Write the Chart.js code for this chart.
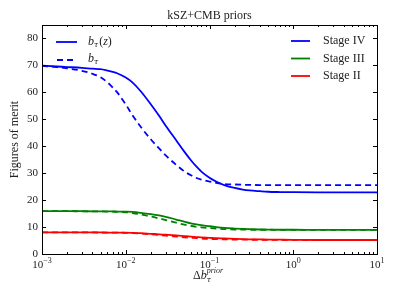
<!DOCTYPE html>
<html>
<head>
<meta charset="utf-8">
<script src="https://cdn.jsdelivr.net/npm/chart.js@4"></script>
<style>
  html, body { margin: 0; padding: 0; background: #fff; }
  #wrap { width: 399px; height: 299px; }
</style>
</head>
<body>
<div id="wrap"><canvas id="fom"></canvas></div>
<script>
// prior width on b_tau (log axis)
const priors = [0.001, 0.0015, 0.002, 0.003, 0.004, 0.005, 0.006, 0.007, 0.008, 0.01,
                0.012, 0.015, 0.02, 0.025, 0.03, 0.04, 0.05, 0.06, 0.07, 0.08,
                0.1, 0.12, 0.15, 0.2, 0.25, 0.3, 0.4, 0.5, 0.7, 1,
                2, 3, 5, 10];

// figures of merit, solid = b_tau(z), dashed = constant b_tau
const stage4Bz = [69.9, 69.6, 69.4, 69.1, 68.8, 68.6, 68.1, 67.6, 67.0, 65.5,
                  63.7, 60.5, 55.5, 51.3, 47.6, 42.2, 38.0, 34.8, 32.4, 30.6,
                  28.3, 26.9, 25.6, 24.5, 23.9, 23.6, 23.3, 23.1, 23.0, 22.95,
                  22.9, 22.9, 22.9, 22.9];
const stage4B  = [69.8, 69.4, 68.9, 68.0, 66.9, 65.6, 63.8, 61.8, 59.8, 55.5,
                  51.6, 47.3, 42.5, 39.2, 36.6, 33.1, 30.7, 29.2, 28.2, 27.6,
                  26.9, 26.4, 26.0, 25.8, 25.7, 25.65, 25.6, 25.6, 25.6, 25.6,
                  25.6, 25.6, 25.6, 25.6];
const stage3Bz = [15.9, 15.9, 15.9, 15.9, 15.85, 15.85, 15.8, 15.8, 15.75, 15.7,
                  15.6, 15.3, 14.8, 14.3, 13.8, 12.8, 12.0, 11.4, 11.0, 10.7,
                  10.3, 10.0, 9.7, 9.45, 9.3, 9.2, 9.1, 9.05, 9.0, 9.0,
                  8.95, 8.95, 8.95, 8.95];
const stage3B  = [15.9, 15.9, 15.9, 15.85, 15.85, 15.8, 15.75, 15.7, 15.65, 15.5,
                  15.2, 14.7, 13.9, 13.2, 12.6, 11.6, 10.9, 10.4, 10.1, 9.9,
                  9.6, 9.4, 9.25, 9.1, 9.05, 9.0, 9.0, 9.0, 8.95, 8.95,
                  8.95, 8.95, 8.95, 8.95];
const stage2Bz = [8.0, 8.0, 8.0, 8.0, 8.0, 8.0, 7.95, 7.95, 7.9, 7.9,
                  7.85, 7.75, 7.5, 7.3, 7.15, 6.9, 6.65, 6.45, 6.3, 6.15,
                  6.0, 5.85, 5.75, 5.6, 5.5, 5.45, 5.4, 5.35, 5.3, 5.25,
                  5.2, 5.2, 5.2, 5.2];
const stage2B  = [8.0, 8.0, 8.0, 8.0, 8.0, 7.95, 7.95, 7.9, 7.9, 7.85,
                  7.75, 7.6, 7.3, 7.05, 6.85, 6.5, 6.2, 6.0, 5.9, 5.75,
                  5.6, 5.5, 5.45, 5.35, 5.3, 5.3, 5.27, 5.25, 5.25, 5.22,
                  5.2, 5.2, 5.2, 5.2];

const yTicks = [0, 10, 20, 30, 40, 50, 60, 70, 80];
const xTicks = [0.001, 0.01, 0.1, 1, 10];
const xTickExp = ["-3", "-2", "-1", "0", "1"];

const stageNames = ["Stage IV", "Stage III", "Stage II"];
const stageColors = ["#0000ff", "#008000", "#ff0000"];

const serif = "'Liberation Serif', 'DejaVu Serif', serif";
const greek = "'DejaVu Serif', serif";

function pts(ys) {
  return priors.map((x, i) => ({ x: x, y: ys[i] }));
}

function line(ys, color, dashed) {
  return {
    data: pts(ys),
    borderColor: color,
    borderWidth: 1.8,
    borderDash: dashed ? [6, 4] : [],
    pointRadius: 0,
    fill: false,
    cubicInterpolationMode: "monotone"
  };
}

// b with a tau subscript, returns the width used
function bTau(ctx, x, y) {
  ctx.font = "italic 12px " + serif;
  ctx.fillText("b", x, y);
  const bw = ctx.measureText("b").width;
  ctx.font = "italic 7.5px " + greek;
  ctx.fillText("\u03c4", x + bw, y + 3);
  return bw + ctx.measureText("\u03c4").width;
}

// axes frame, inward ticks, tick labels, title and the two legends
const decorations = {
  id: "decorations",
  afterDatasetsDraw(chart) {
    const ctx = chart.ctx;
    const a = chart.chartArea;
    const xs = chart.scales.x;
    const ys = chart.scales.y;

    ctx.save();
    ctx.strokeStyle = "#000";
    ctx.lineWidth = 1;
    ctx.setLineDash([]);
    ctx.strokeRect(Math.round(a.left) + 0.5, Math.round(a.top) + 0.5,
                   Math.round(a.right - a.left), Math.round(a.bottom - a.top));

    ctx.beginPath();
    yTicks.forEach(v => {
      const y = Math.round(ys.getPixelForValue(v)) + 0.5;
      ctx.moveTo(a.left, y); ctx.lineTo(a.left + 4, y);
      ctx.moveTo(a.right, y); ctx.lineTo(a.right - 4, y);
    });
    for (let d = -3; d <= 1; d++) {
      for (let m = 1; m <= 9; m++) {
        const v = m * Math.pow(10, d);
        if (v > 10) break;
        const x = Math.round(xs.getPixelForValue(v)) + 0.5;
        const len = m === 1 ? 4 : 2;
        ctx.moveTo(x, a.bottom); ctx.lineTo(x, a.bottom - len);
        ctx.moveTo(x, a.top); ctx.lineTo(x, a.top + len);
      }
    }
    ctx.stroke();

    ctx.fillStyle = "#222";
    ctx.font = "11px " + serif;
    ctx.textAlign = "right";
    ctx.textBaseline = "middle";
    yTicks.forEach(v => ctx.fillText(String(v), a.left - 4, ys.getPixelForValue(v)));

    xTicks.forEach((v, i) => {
      const x = xs.getPixelForValue(v);
      ctx.font = "11px " + serif;
      const wb = ctx.measureText("10").width;
      ctx.font = "8px " + serif;
      const exp = xTickExp[i].replace("-", "\u2212");
      const we = ctx.measureText(exp).width;
      const x0 = x - (wb + we) / 2;
      ctx.textAlign = "left";
      ctx.textBaseline = "alphabetic";
      ctx.font = "11px " + serif;
      ctx.fillText("10", x0, a.bottom + 14);
      ctx.font = "8px " + serif;
      ctx.fillText(exp, x0 + wb, a.bottom + 9);
    });

    // title
    ctx.font = "12px " + serif;
    ctx.textAlign = "center";
    ctx.fillText("kSZ+CMB priors", (a.left + a.right) / 2, a.top - 6);

    // y label
    ctx.save();
    ctx.translate(15, (a.top + a.bottom) / 2);
    ctx.rotate(-Math.PI / 2);
    ctx.textBaseline = "middle";
    ctx.fillText("Figures of merit", 0, 0);
    ctx.restore();

    // x label: Δb_τ^prior
    let lx = 193, ly = 279;
    ctx.textAlign = "left";
    ctx.font = "12px " + serif;
    ctx.fillText("\u0394", lx, ly);
    lx += ctx.measureText("\u0394").width;
    ctx.font = "italic 12px " + serif;
    const bw = ctx.measureText("b").width;
    bTau(ctx, lx, ly);
    ctx.font = "italic 8px " + serif;
    ctx.fillText("prior", lx + bw, ly - 6);

    // left legend (line style)
    ctx.strokeStyle = "#0000ff";
    ctx.lineWidth = 1.8;
    ctx.beginPath(); ctx.moveTo(56, 42); ctx.lineTo(77, 42); ctx.stroke();
    ctx.setLineDash([6, 4]);
    ctx.beginPath(); ctx.moveTo(57, 60); ctx.lineTo(77, 60); ctx.stroke();
    ctx.setLineDash([]);
    ctx.fillStyle = "#222";
    ctx.textBaseline = "middle";
    let w = bTau(ctx, 88, 42) + 1;
    ctx.font = "12px " + serif;
    ctx.fillText("(", 88 + w, 42);
    w += ctx.measureText("(").width;
    ctx.font = "italic 12px " + serif;
    ctx.fillText("z", 88 + w, 42);
    w += ctx.measureText("z").width;
    ctx.font = "12px " + serif;
    ctx.fillText(")", 88 + w, 42);
    bTau(ctx, 88, 59);

    // right legend (experiments)
    ctx.font = "12px " + serif;
    stageNames.forEach((name, i) => {
      const y = 41 + i * 17.5;
      ctx.strokeStyle = stageColors[i];
      ctx.beginPath(); ctx.moveTo(291, y); ctx.lineTo(310, y); ctx.stroke();
      ctx.fillStyle = "#222";
      ctx.fillText(name, 323, y);
    });
    ctx.restore();
  }
};

new Chart(document.getElementById("fom"), {
  type: "line",
  data: {
    datasets: [
      line(stage4Bz, stageColors[0], false),
      line(stage4B, stageColors[0], true),
      line(stage3Bz, stageColors[1], false),
      line(stage3B, stageColors[1], true),
      line(stage2Bz, stageColors[2], false),
      line(stage2B, stageColors[2], true)
    ]
  },
  options: {
    responsive: true,
    maintainAspectRatio: false,
    animation: false,
    layout: { padding: { left: 42, right: 22, top: 25, bottom: 45 } },
    plugins: {
      legend: { display: false },
      tooltip: { enabled: false }
    },
    scales: {
      x: {
        type: "logarithmic",
        min: 0.001,
        max: 10,
        grid: { display: false, drawTicks: false },
        border: { display: false },
        ticks: { display: false },
        afterFit: s => { s.height = 0; }
      },
      y: {
        type: "linear",
        min: 0,
        max: 85,
        grid: { display: false, drawTicks: false },
        border: { display: false },
        ticks: { display: false },
        afterFit: s => { s.width = 0; }
      }
    }
  },
  plugins: [decorations]
});
</script>
</body>
</html>
